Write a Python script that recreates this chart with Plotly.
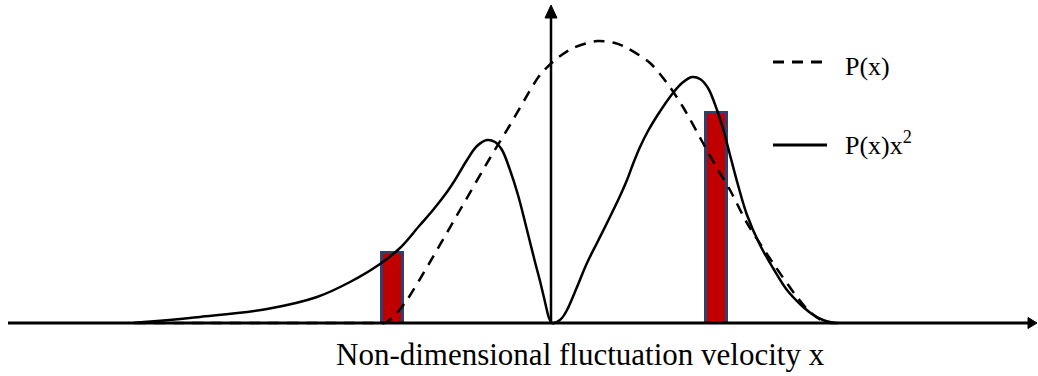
import plotly.graph_objects as go

# P(x): probability density of the fluctuation velocity (dashed)
px_x = [-4.16, -3.00, -2.00, -1.75, -1.66, -1.56, -1.44, -1.21, -0.91, -0.61, -0.41, -0.26, -0.11,
        0.04, 0.22, 0.46, 0.64, 0.76, 0.99, 1.16, 1.32, 1.52, 1.66, 1.79, 1.96, 2.22, 2.46, 2.59,
        2.74, 2.89]
px_y = [0.00, 0.00, 0.00, 0.00, 0.00, 0.08, 0.23, 0.61, 1.13, 1.65, 1.98, 2.24, 2.48,
        2.63, 2.75, 2.82, 2.80, 2.75, 2.60, 2.40, 2.16, 1.80, 1.55, 1.33, 1.00, 0.60, 0.26, 0.11,
        0.01, 0.00]

# P(x)x^2: second-moment weighted density (solid)
px2_x = [-4.18, -3.51, -2.84, -2.34, -2.01, -1.71, -1.51, -1.31, -1.18, -1.04, -0.96, -0.84,
         -0.74, -0.64, -0.56, -0.49, -0.41, -0.33, -0.24, -0.16, -0.11, -0.06, -0.02, 0.01,
         0.06, 0.11, 0.16, 0.26, 0.36, 0.46, 0.56, 0.69, 0.76, 0.82, 0.89, 0.97, 1.06, 1.14,
         1.22, 1.31, 1.41, 1.49, 1.57, 1.66, 1.73, 1.79, 1.87, 1.96, 2.09, 2.22, 2.36, 2.49,
         2.61, 2.72, 2.84]
px2_y = [0.00, 0.06, 0.14, 0.26, 0.41, 0.59, 0.75, 0.98, 1.13, 1.31, 1.43, 1.63,
         1.77, 1.83, 1.81, 1.73, 1.53, 1.28, 0.93, 0.61, 0.42, 0.21, 0.05, 0.00,
         0.01, 0.05, 0.13, 0.36, 0.60, 0.80, 1.00, 1.27, 1.43, 1.59, 1.76, 1.92, 2.07, 2.19,
         2.30, 2.40, 2.46, 2.44, 2.35, 2.13, 1.91, 1.68, 1.38, 1.08, 0.78, 0.55, 0.33, 0.19,
         0.09, 0.03, 0.00]

# Highlighted velocity samples
bar_x = [-1.585, 1.655]
bar_h = [0.70, 2.105]

legend_labels = ["P(x)", "P(x)x<sup>2</sup>"]
x_label = "Non-dimensional fluctuation velocity x"

FONT = "Liberation Serif, Times New Roman, serif"

fig = go.Figure()
fig.add_trace(go.Scatter(x=px_x, y=px_y, mode="lines",
                         line=dict(color="black", width=2.5, dash="11px,8px", shape="spline", smoothing=0.8),
                         hoverinfo="skip", showlegend=False))
fig.add_trace(go.Scatter(x=px2_x, y=px2_y, mode="lines",
                         line=dict(color="black", width=2.5, shape="spline", smoothing=1.0),
                         hoverinfo="skip", showlegend=False))
fig.add_trace(go.Bar(x=bar_x, y=bar_h, width=0.21,
                     marker=dict(color="#C00000", line=dict(color="#2F3F6E", width=3)),
                     hoverinfo="skip", showlegend=False))

shapes = [
    # horizontal axis with arrowhead
    dict(type="line", x0=-5.43, y0=0, x1=4.80, y1=0, line=dict(color="black", width=3), layer="above"),
    dict(type="path", path="M 4.77,0.055 L 4.86,0 L 4.77,-0.055 Z",
         fillcolor="black", line=dict(color="black", width=1), layer="above"),
    # vertical axis with arrowhead
    dict(type="line", x0=0, y0=0, x1=0, y1=3.08, line=dict(color="black", width=2.5), layer="above"),
    dict(type="path", path="M -0.06,3.05 L 0,3.18 L 0.06,3.05 Z",
         fillcolor="black", line=dict(color="black", width=1), layer="above"),
    # legend keys
    dict(type="line", x0=2.22, y0=2.61, x1=2.76, y1=2.61,
         line=dict(color="black", width=3, dash="11px,8px")),
    dict(type="line", x0=2.22, y0=1.78, x1=2.76, y1=1.78,
         line=dict(color="black", width=3)),
]

annotations = [
    dict(x=2.92, y=2.57, text=legend_labels[0], showarrow=False, xanchor="left", yanchor="middle",
         font=dict(family=FONT, size=26, color="black")),
    dict(x=2.92, y=1.80, text=legend_labels[1], showarrow=False, xanchor="left", yanchor="middle",
         font=dict(family=FONT, size=26, color="black")),
    dict(x=0.29, y=-0.31, text=x_label, showarrow=False, xanchor="center", yanchor="middle",
         font=dict(family=FONT, size=31, color="black")),
]

fig.update_layout(
    width=1038, height=376,
    margin=dict(l=0, r=0, t=0, b=0),
    paper_bgcolor="white", plot_bgcolor="white",
    xaxis=dict(range=[-5.51, 4.87], visible=False, fixedrange=True),
    yaxis=dict(range=[-0.53, 3.23], visible=False, fixedrange=True),
    shapes=shapes, annotations=annotations,
    bargap=0, showlegend=False,
)

fig.write_html("out.html")
